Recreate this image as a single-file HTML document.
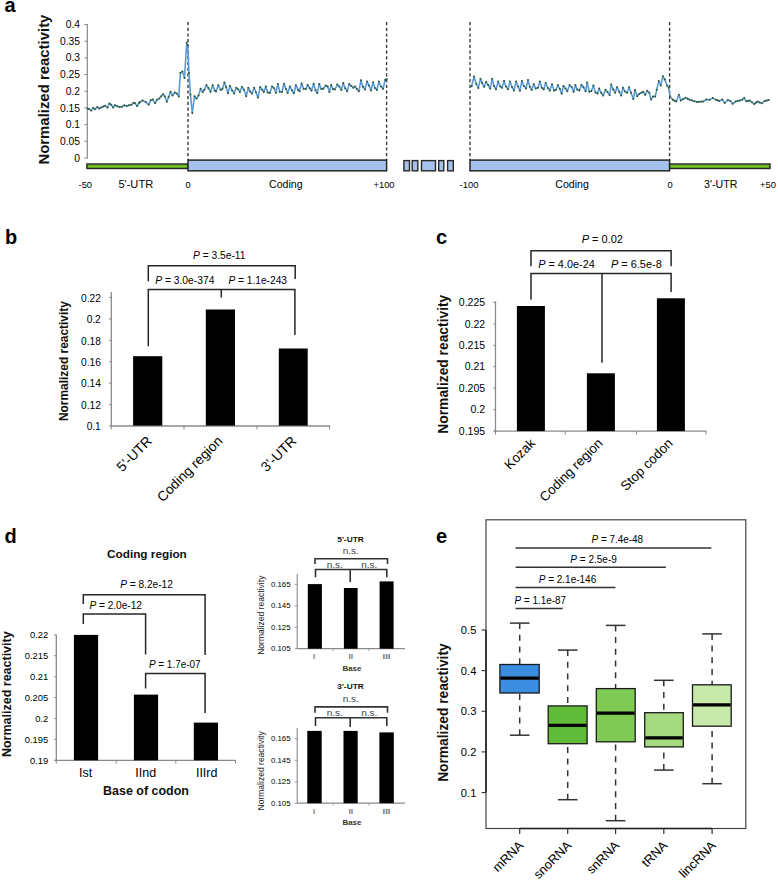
<!DOCTYPE html>
<html><head><meta charset="utf-8"><title>Figure</title>
<style>
html,body{margin:0;padding:0;background:#fff;}
body{width:778px;height:881px;overflow:hidden;}
svg{display:block;font-family:"Liberation Sans", sans-serif;}
</style></head>
<body>
<svg width="778" height="881" viewBox="0 0 778 881">
<rect x="0" y="0" width="778" height="881" fill="#fff"/>
<text x="4.60" y="12.20" font-size="20" text-anchor="start" font-weight="bold" fill="#000">a</text>
<text x="5.00" y="243.50" font-size="20" text-anchor="start" font-weight="bold" fill="#000">b</text>
<text x="436.00" y="244.00" font-size="20" text-anchor="start" font-weight="bold" fill="#000">c</text>
<text x="4.60" y="543.10" font-size="20" text-anchor="start" font-weight="bold" fill="#000">d</text>
<text x="436.00" y="543.20" font-size="20" text-anchor="start" font-weight="bold" fill="#000">e</text>
<text transform="translate(48.90,89.60) rotate(-90)" font-size="15" text-anchor="middle" font-weight="bold" fill="#111" textLength="150.00" lengthAdjust="spacingAndGlyphs">Normalized reactivity</text>
<line x1="87.30" y1="24.00" x2="87.30" y2="158.60" stroke="#8a8a8a" stroke-width="1.2"/>
<line x1="84.30" y1="158.00" x2="87.30" y2="158.00" stroke="#8a8a8a" stroke-width="1.0"/>
<text x="80.00" y="161.60" font-size="10.3" text-anchor="end">0</text>
<line x1="84.30" y1="141.31" x2="87.30" y2="141.31" stroke="#8a8a8a" stroke-width="1.0"/>
<text x="80.00" y="144.91" font-size="10.3" text-anchor="end">0.05</text>
<line x1="84.30" y1="124.62" x2="87.30" y2="124.62" stroke="#8a8a8a" stroke-width="1.0"/>
<text x="80.00" y="128.22" font-size="10.3" text-anchor="end">0.1</text>
<line x1="84.30" y1="107.94" x2="87.30" y2="107.94" stroke="#8a8a8a" stroke-width="1.0"/>
<text x="80.00" y="111.54" font-size="10.3" text-anchor="end">0.15</text>
<line x1="84.30" y1="91.25" x2="87.30" y2="91.25" stroke="#8a8a8a" stroke-width="1.0"/>
<text x="80.00" y="94.85" font-size="10.3" text-anchor="end">0.2</text>
<line x1="84.30" y1="74.56" x2="87.30" y2="74.56" stroke="#8a8a8a" stroke-width="1.0"/>
<text x="80.00" y="78.16" font-size="10.3" text-anchor="end">0.25</text>
<line x1="84.30" y1="57.87" x2="87.30" y2="57.87" stroke="#8a8a8a" stroke-width="1.0"/>
<text x="80.00" y="61.47" font-size="10.3" text-anchor="end">0.3</text>
<line x1="84.30" y1="41.19" x2="87.30" y2="41.19" stroke="#8a8a8a" stroke-width="1.0"/>
<text x="80.00" y="44.79" font-size="10.3" text-anchor="end">0.35</text>
<line x1="84.30" y1="24.50" x2="87.30" y2="24.50" stroke="#8a8a8a" stroke-width="1.0"/>
<text x="80.00" y="28.10" font-size="10.3" text-anchor="end">0.4</text>
<line x1="188.00" y1="22.00" x2="188.00" y2="160.00" stroke="#3a3a3a" stroke-width="1.4" stroke-dasharray="3.2,2.5"/>
<line x1="386.60" y1="22.00" x2="386.60" y2="160.00" stroke="#3a3a3a" stroke-width="1.4" stroke-dasharray="3.2,2.5"/>
<line x1="470.00" y1="22.00" x2="470.00" y2="160.00" stroke="#3a3a3a" stroke-width="1.4" stroke-dasharray="3.2,2.5"/>
<line x1="669.60" y1="22.00" x2="669.60" y2="160.00" stroke="#3a3a3a" stroke-width="1.4" stroke-dasharray="3.2,2.5"/>
<path d="M87.7,108.5 L88.9,108.9 L91.2,110.5 L93.1,107.8 L95.0,109.2 L97.3,107.1 L99.3,108.5 L101.2,107.6 L103.1,106.6 L105.0,105.8 L107.4,107.6 L109.3,103.5 L111.2,104.7 L113.1,107.4 L115.1,105.3 L117.4,106.2 L119.7,107.0 L122.0,106.8 L124.3,105.3 L126.6,106.1 L129.0,105.3 L131.3,104.8 L133.6,102.8 L135.1,103.3 L137.1,106.1 L139.0,103.0 L140.0,102.1 L142.6,100.5 L145.6,102.1 L148.7,104.6 L150.7,100.3 L152.8,99.5 L155.1,103.1 L156.9,99.8 L159.4,98.5 L163.0,94.2 L165.0,96.4 L166.8,101.8 L168.6,97.0 L170.5,91.8 L172.5,95.4 L174.8,92.6 L176.8,93.6 L178.8,96.4 L180.4,72.9 L182.4,71.4 L184.5,78.0 L186.7,42.8 L187.8,45.3 L188.9,72.9 L190.4,94.4 L192.3,113.0 L194.5,96.3 L196.5,98.6 L198.5,95.6 L200.6,88.7 L202.8,92.0 L204.4,89.8 L206.4,85.1 L208.4,88.0 L210.5,91.8 L212.7,85.3 L214.7,90.5 L216.1,91.4 L218.3,85.3 L220.6,90.0 L222.4,89.1 L224.4,82.4 L226.0,86.9 L228.0,93.2 L230.0,85.7 L232.1,90.5 L234.1,93.4 L236.3,87.8 L238.1,89.3 L239.9,92.0 L242.0,86.9 L244.0,89.8 L246.2,96.3 L248.3,87.8 L250.1,91.6 L252.1,93.6 L254.1,87.8 L255.9,92.0 L258.0,97.6 L260.2,87.0 L262.2,89.7 L263.8,92.0 L265.8,86.4 L267.6,92.4 L269.8,92.9 L272.1,86.4 L274.1,88.2 L275.9,92.7 L277.9,84.1 L279.7,91.8 L282.0,92.0 L284.0,83.7 L286.0,89.1 L287.6,92.9 L289.9,86.4 L291.9,90.2 L293.9,93.3 L295.9,85.2 L298.0,89.7 L299.5,91.3 L301.6,83.4 L303.6,88.8 L305.8,89.1 L307.6,85.0 L309.7,88.2 L311.5,90.6 L313.7,83.7 L315.5,90.2 L317.3,93.1 L319.3,84.1 L321.4,89.1 L323.4,88.6 L325.8,85.6 L327.6,86.5 L329.4,91.9 L331.2,85.0 L333.0,89.0 L334.8,89.5 L337.3,84.5 L339.3,86.5 L341.4,89.9 L343.2,82.9 L345.2,88.3 L347.2,91.3 L349.2,84.1 L351.3,85.9 L353.3,87.7 L355.1,86.5 L356.9,89.0 L358.9,91.3 L360.9,80.2 L363.0,86.8 L365.0,89.5 L367.0,81.6 L369.0,85.6 L371.1,90.4 L373.1,82.3 L374.9,87.9 L376.9,89.9 L378.9,81.6 L381.0,86.5 L383.0,88.8 L385.2,80.0 L386.6,78.9" stroke="#5b9ad8" stroke-width="1.6" fill="none" stroke-linejoin="round"/>
<g fill="#2f5a2f"><circle cx="87.7" cy="108.5" r="1.0"/><circle cx="88.9" cy="108.9" r="1.0"/><circle cx="91.2" cy="110.5" r="1.0"/><circle cx="93.1" cy="107.8" r="1.0"/><circle cx="95.0" cy="109.2" r="1.0"/><circle cx="97.3" cy="107.1" r="1.0"/><circle cx="99.3" cy="108.5" r="1.0"/><circle cx="101.2" cy="107.6" r="1.0"/><circle cx="103.1" cy="106.6" r="1.0"/><circle cx="105.0" cy="105.8" r="1.0"/><circle cx="107.4" cy="107.6" r="1.0"/><circle cx="109.3" cy="103.5" r="1.0"/><circle cx="111.2" cy="104.7" r="1.0"/><circle cx="113.1" cy="107.4" r="1.0"/><circle cx="115.1" cy="105.3" r="1.0"/><circle cx="117.4" cy="106.2" r="1.0"/><circle cx="119.7" cy="107.0" r="1.0"/><circle cx="122.0" cy="106.8" r="1.0"/><circle cx="124.3" cy="105.3" r="1.0"/><circle cx="126.6" cy="106.1" r="1.0"/><circle cx="129.0" cy="105.3" r="1.0"/><circle cx="131.3" cy="104.8" r="1.0"/><circle cx="133.6" cy="102.8" r="1.0"/><circle cx="135.1" cy="103.3" r="1.0"/><circle cx="137.1" cy="106.1" r="1.0"/><circle cx="139.0" cy="103.0" r="1.0"/><circle cx="140.0" cy="102.1" r="1.0"/><circle cx="142.6" cy="100.5" r="1.0"/><circle cx="145.6" cy="102.1" r="1.0"/><circle cx="148.7" cy="104.6" r="1.0"/><circle cx="150.7" cy="100.3" r="1.0"/><circle cx="152.8" cy="99.5" r="1.0"/><circle cx="155.1" cy="103.1" r="1.0"/><circle cx="156.9" cy="99.8" r="1.0"/><circle cx="159.4" cy="98.5" r="1.0"/><circle cx="161.2" cy="96.3" r="1.0"/><circle cx="163.0" cy="94.2" r="1.0"/><circle cx="165.0" cy="96.4" r="1.0"/><circle cx="166.8" cy="101.8" r="1.0"/><circle cx="168.6" cy="97.0" r="1.0"/><circle cx="170.5" cy="91.8" r="1.0"/><circle cx="172.5" cy="95.4" r="1.0"/><circle cx="174.8" cy="92.6" r="1.0"/><circle cx="176.8" cy="93.6" r="1.0"/><circle cx="178.8" cy="96.4" r="1.0"/><circle cx="180.4" cy="72.9" r="1.0"/><circle cx="182.4" cy="71.4" r="1.0"/><circle cx="184.5" cy="78.0" r="1.0"/><circle cx="186.7" cy="42.8" r="1.0"/><circle cx="187.8" cy="45.3" r="1.0"/><circle cx="188.9" cy="72.9" r="1.0"/><circle cx="190.4" cy="94.4" r="1.0"/><circle cx="192.3" cy="113.0" r="1.0"/><circle cx="194.5" cy="96.3" r="1.0"/><circle cx="196.5" cy="98.6" r="1.0"/><circle cx="198.5" cy="95.6" r="1.0"/><circle cx="200.6" cy="88.7" r="1.0"/><circle cx="202.8" cy="92.0" r="1.0"/><circle cx="204.4" cy="89.8" r="1.0"/><circle cx="206.4" cy="85.1" r="1.0"/><circle cx="208.4" cy="88.0" r="1.0"/><circle cx="210.5" cy="91.8" r="1.0"/><circle cx="212.7" cy="85.3" r="1.0"/><circle cx="214.7" cy="90.5" r="1.0"/><circle cx="216.1" cy="91.4" r="1.0"/><circle cx="218.3" cy="85.3" r="1.0"/><circle cx="220.6" cy="90.0" r="1.0"/><circle cx="222.4" cy="89.1" r="1.0"/><circle cx="224.4" cy="82.4" r="1.0"/><circle cx="226.0" cy="86.9" r="1.0"/><circle cx="228.0" cy="93.2" r="1.0"/><circle cx="230.0" cy="85.7" r="1.0"/><circle cx="232.1" cy="90.5" r="1.0"/><circle cx="234.1" cy="93.4" r="1.0"/><circle cx="236.3" cy="87.8" r="1.0"/><circle cx="238.1" cy="89.3" r="1.0"/><circle cx="239.9" cy="92.0" r="1.0"/><circle cx="242.0" cy="86.9" r="1.0"/><circle cx="244.0" cy="89.8" r="1.0"/><circle cx="246.2" cy="96.3" r="1.0"/><circle cx="248.3" cy="87.8" r="1.0"/><circle cx="250.1" cy="91.6" r="1.0"/><circle cx="252.1" cy="93.6" r="1.0"/><circle cx="254.1" cy="87.8" r="1.0"/><circle cx="255.9" cy="92.0" r="1.0"/><circle cx="258.0" cy="97.6" r="1.0"/><circle cx="260.2" cy="87.0" r="1.0"/><circle cx="262.2" cy="89.7" r="1.0"/><circle cx="263.8" cy="92.0" r="1.0"/><circle cx="265.8" cy="86.4" r="1.0"/><circle cx="267.6" cy="92.4" r="1.0"/><circle cx="269.8" cy="92.9" r="1.0"/><circle cx="272.1" cy="86.4" r="1.0"/><circle cx="274.1" cy="88.2" r="1.0"/><circle cx="275.9" cy="92.7" r="1.0"/><circle cx="277.9" cy="84.1" r="1.0"/><circle cx="279.7" cy="91.8" r="1.0"/><circle cx="282.0" cy="92.0" r="1.0"/><circle cx="284.0" cy="83.7" r="1.0"/><circle cx="286.0" cy="89.1" r="1.0"/><circle cx="287.6" cy="92.9" r="1.0"/><circle cx="289.9" cy="86.4" r="1.0"/><circle cx="291.9" cy="90.2" r="1.0"/><circle cx="293.9" cy="93.3" r="1.0"/><circle cx="295.9" cy="85.2" r="1.0"/><circle cx="298.0" cy="89.7" r="1.0"/><circle cx="299.5" cy="91.3" r="1.0"/><circle cx="301.6" cy="83.4" r="1.0"/><circle cx="303.6" cy="88.8" r="1.0"/><circle cx="305.8" cy="89.1" r="1.0"/><circle cx="307.6" cy="85.0" r="1.0"/><circle cx="309.7" cy="88.2" r="1.0"/><circle cx="311.5" cy="90.6" r="1.0"/><circle cx="313.7" cy="83.7" r="1.0"/><circle cx="315.5" cy="90.2" r="1.0"/><circle cx="317.3" cy="93.1" r="1.0"/><circle cx="319.3" cy="84.1" r="1.0"/><circle cx="321.4" cy="89.1" r="1.0"/><circle cx="323.4" cy="88.6" r="1.0"/><circle cx="325.8" cy="85.6" r="1.0"/><circle cx="327.6" cy="86.5" r="1.0"/><circle cx="329.4" cy="91.9" r="1.0"/><circle cx="331.2" cy="85.0" r="1.0"/><circle cx="333.0" cy="89.0" r="1.0"/><circle cx="334.8" cy="89.5" r="1.0"/><circle cx="337.3" cy="84.5" r="1.0"/><circle cx="339.3" cy="86.5" r="1.0"/><circle cx="341.4" cy="89.9" r="1.0"/><circle cx="343.2" cy="82.9" r="1.0"/><circle cx="345.2" cy="88.3" r="1.0"/><circle cx="347.2" cy="91.3" r="1.0"/><circle cx="349.2" cy="84.1" r="1.0"/><circle cx="351.3" cy="85.9" r="1.0"/><circle cx="353.3" cy="87.7" r="1.0"/><circle cx="355.1" cy="86.5" r="1.0"/><circle cx="356.9" cy="89.0" r="1.0"/><circle cx="358.9" cy="91.3" r="1.0"/><circle cx="360.9" cy="80.2" r="1.0"/><circle cx="363.0" cy="86.8" r="1.0"/><circle cx="365.0" cy="89.5" r="1.0"/><circle cx="367.0" cy="81.6" r="1.0"/><circle cx="369.0" cy="85.6" r="1.0"/><circle cx="371.1" cy="90.4" r="1.0"/><circle cx="373.1" cy="82.3" r="1.0"/><circle cx="374.9" cy="87.9" r="1.0"/><circle cx="376.9" cy="89.9" r="1.0"/><circle cx="378.9" cy="81.6" r="1.0"/><circle cx="381.0" cy="86.5" r="1.0"/><circle cx="383.0" cy="88.8" r="1.0"/><circle cx="385.2" cy="80.0" r="1.0"/><circle cx="386.6" cy="78.9" r="1.0"/></g>
<path d="M471.7,86.3 L474.0,76.6 L476.2,83.8 L478.3,87.9 L480.5,78.7 L482.1,82.9 L484.1,86.8 L486.1,82.0 L488.2,85.0 L490.2,88.6 L492.2,78.7 L494.0,86.1 L496.0,89.2 L498.1,81.6 L500.1,86.3 L501.9,87.7 L504.1,80.9 L505.9,86.5 L508.0,89.2 L510.0,81.4 L512.0,87.0 L514.0,90.6 L516.1,81.6 L518.1,86.5 L519.9,90.8 L521.9,80.9 L523.9,86.1 L526.0,88.6 L528.0,80.0 L529.8,86.8 L531.6,89.9 L533.8,84.3 L535.8,88.6 L537.9,87.7 L539.9,81.6 L541.7,87.7 L543.7,89.3 L545.7,83.0 L547.8,87.9 L549.8,90.6 L552.0,84.3 L554.1,90.6 L556.1,89.7 L557.9,85.0 L559.9,89.1 L561.7,93.6 L563.5,85.9 L565.5,88.6 L567.3,91.3 L569.6,85.0 L571.6,87.0 L573.6,91.8 L575.4,85.0 L577.2,89.5 L579.3,90.6 L581.5,85.0 L583.5,87.3 L585.6,91.3 L587.1,82.5 L589.4,91.8 L591.4,91.1 L593.4,85.5 L595.5,92.4 L597.5,93.6 L599.1,88.6 L601.2,92.7 L603.2,95.5 L605.5,89.8 L607.5,92.1 L609.6,95.0 L611.2,84.5 L613.3,89.6 L615.1,92.7 L617.1,87.2 L619.2,91.7 L621.2,95.5 L623.0,87.8 L625.0,91.4 L627.1,92.7 L629.1,87.2 L631.0,92.7 L633.3,99.1 L635.1,90.0 L637.2,96.2 L639.2,93.9 L641.3,92.7 L643.1,91.7 L645.2,94.8 L647.2,90.8 L649.3,92.7 L651.0,99.6 L653.1,96.5 L655.2,96.5 L656.7,89.8 L658.8,81.1 L660.8,85.5 L662.9,76.2 L664.9,79.5 L667.0,85.5 L668.8,87.8 L670.0,96.3 L672.8,99.8 L676.3,101.5 L678.9,94.8 L680.8,100.5 L685.5,97.7 L689.7,99.8 L696.8,101.9 L703.2,101.5 L706.3,99.5 L709.5,99.8 L712.8,98.1 L715.9,99.8 L719.4,100.9 L722.3,99.5 L724.7,102.9 L727.9,100.1 L730.3,100.9 L732.6,103.8 L735.7,101.5 L739.7,100.5 L742.1,99.8 L744.2,98.1 L746.3,101.2 L749.8,100.5 L754.1,104.0 L757.6,101.5 L761.8,103.3 L764.7,100.9 L768.9,100.1" stroke="#5b9ad8" stroke-width="1.6" fill="none" stroke-linejoin="round"/>
<g fill="#2f5a2f"><circle cx="471.7" cy="86.3" r="1.0"/><circle cx="474.0" cy="76.6" r="1.0"/><circle cx="476.2" cy="83.8" r="1.0"/><circle cx="478.3" cy="87.9" r="1.0"/><circle cx="480.5" cy="78.7" r="1.0"/><circle cx="482.1" cy="82.9" r="1.0"/><circle cx="484.1" cy="86.8" r="1.0"/><circle cx="486.1" cy="82.0" r="1.0"/><circle cx="488.2" cy="85.0" r="1.0"/><circle cx="490.2" cy="88.6" r="1.0"/><circle cx="492.2" cy="78.7" r="1.0"/><circle cx="494.0" cy="86.1" r="1.0"/><circle cx="496.0" cy="89.2" r="1.0"/><circle cx="498.1" cy="81.6" r="1.0"/><circle cx="500.1" cy="86.3" r="1.0"/><circle cx="501.9" cy="87.7" r="1.0"/><circle cx="504.1" cy="80.9" r="1.0"/><circle cx="505.9" cy="86.5" r="1.0"/><circle cx="508.0" cy="89.2" r="1.0"/><circle cx="510.0" cy="81.4" r="1.0"/><circle cx="512.0" cy="87.0" r="1.0"/><circle cx="514.0" cy="90.6" r="1.0"/><circle cx="516.1" cy="81.6" r="1.0"/><circle cx="518.1" cy="86.5" r="1.0"/><circle cx="519.9" cy="90.8" r="1.0"/><circle cx="521.9" cy="80.9" r="1.0"/><circle cx="523.9" cy="86.1" r="1.0"/><circle cx="526.0" cy="88.6" r="1.0"/><circle cx="528.0" cy="80.0" r="1.0"/><circle cx="529.8" cy="86.8" r="1.0"/><circle cx="531.6" cy="89.9" r="1.0"/><circle cx="533.8" cy="84.3" r="1.0"/><circle cx="535.8" cy="88.6" r="1.0"/><circle cx="537.9" cy="87.7" r="1.0"/><circle cx="539.9" cy="81.6" r="1.0"/><circle cx="541.7" cy="87.7" r="1.0"/><circle cx="543.7" cy="89.3" r="1.0"/><circle cx="545.7" cy="83.0" r="1.0"/><circle cx="547.8" cy="87.9" r="1.0"/><circle cx="549.8" cy="90.6" r="1.0"/><circle cx="552.0" cy="84.3" r="1.0"/><circle cx="554.1" cy="90.6" r="1.0"/><circle cx="556.1" cy="89.7" r="1.0"/><circle cx="557.9" cy="85.0" r="1.0"/><circle cx="559.9" cy="89.1" r="1.0"/><circle cx="561.7" cy="93.6" r="1.0"/><circle cx="563.5" cy="85.9" r="1.0"/><circle cx="565.5" cy="88.6" r="1.0"/><circle cx="567.3" cy="91.3" r="1.0"/><circle cx="569.6" cy="85.0" r="1.0"/><circle cx="571.6" cy="87.0" r="1.0"/><circle cx="573.6" cy="91.8" r="1.0"/><circle cx="575.4" cy="85.0" r="1.0"/><circle cx="577.2" cy="89.5" r="1.0"/><circle cx="579.3" cy="90.6" r="1.0"/><circle cx="581.5" cy="85.0" r="1.0"/><circle cx="583.5" cy="87.3" r="1.0"/><circle cx="585.6" cy="91.3" r="1.0"/><circle cx="587.1" cy="82.5" r="1.0"/><circle cx="589.4" cy="91.8" r="1.0"/><circle cx="591.4" cy="91.1" r="1.0"/><circle cx="593.4" cy="85.5" r="1.0"/><circle cx="595.5" cy="92.4" r="1.0"/><circle cx="597.5" cy="93.6" r="1.0"/><circle cx="599.1" cy="88.6" r="1.0"/><circle cx="601.2" cy="92.7" r="1.0"/><circle cx="603.2" cy="95.5" r="1.0"/><circle cx="605.5" cy="89.8" r="1.0"/><circle cx="607.5" cy="92.1" r="1.0"/><circle cx="609.6" cy="95.0" r="1.0"/><circle cx="611.2" cy="84.5" r="1.0"/><circle cx="613.3" cy="89.6" r="1.0"/><circle cx="615.1" cy="92.7" r="1.0"/><circle cx="617.1" cy="87.2" r="1.0"/><circle cx="619.2" cy="91.7" r="1.0"/><circle cx="621.2" cy="95.5" r="1.0"/><circle cx="623.0" cy="87.8" r="1.0"/><circle cx="625.0" cy="91.4" r="1.0"/><circle cx="627.1" cy="92.7" r="1.0"/><circle cx="629.1" cy="87.2" r="1.0"/><circle cx="631.0" cy="92.7" r="1.0"/><circle cx="633.3" cy="99.1" r="1.0"/><circle cx="635.1" cy="90.0" r="1.0"/><circle cx="637.2" cy="96.2" r="1.0"/><circle cx="639.2" cy="93.9" r="1.0"/><circle cx="641.3" cy="92.7" r="1.0"/><circle cx="643.1" cy="91.7" r="1.0"/><circle cx="645.2" cy="94.8" r="1.0"/><circle cx="647.2" cy="90.8" r="1.0"/><circle cx="649.3" cy="92.7" r="1.0"/><circle cx="651.0" cy="99.6" r="1.0"/><circle cx="653.1" cy="96.5" r="1.0"/><circle cx="655.2" cy="96.5" r="1.0"/><circle cx="656.7" cy="89.8" r="1.0"/><circle cx="658.8" cy="81.1" r="1.0"/><circle cx="660.8" cy="85.5" r="1.0"/><circle cx="662.9" cy="76.2" r="1.0"/><circle cx="664.9" cy="79.5" r="1.0"/><circle cx="667.0" cy="85.5" r="1.0"/><circle cx="668.8" cy="87.8" r="1.0"/><circle cx="670.0" cy="96.3" r="1.0"/><circle cx="672.8" cy="99.8" r="1.0"/><circle cx="674.5" cy="100.7" r="1.0"/><circle cx="676.3" cy="101.5" r="1.0"/><circle cx="678.9" cy="94.8" r="1.0"/><circle cx="680.8" cy="100.5" r="1.0"/><circle cx="683.1" cy="99.1" r="1.0"/><circle cx="685.5" cy="97.7" r="1.0"/><circle cx="687.6" cy="98.8" r="1.0"/><circle cx="689.7" cy="99.8" r="1.0"/><circle cx="692.1" cy="100.5" r="1.0"/><circle cx="694.4" cy="101.2" r="1.0"/><circle cx="696.8" cy="101.9" r="1.0"/><circle cx="698.9" cy="101.8" r="1.0"/><circle cx="701.1" cy="101.6" r="1.0"/><circle cx="703.2" cy="101.5" r="1.0"/><circle cx="706.3" cy="99.5" r="1.0"/><circle cx="709.5" cy="99.8" r="1.0"/><circle cx="712.8" cy="98.1" r="1.0"/><circle cx="715.9" cy="99.8" r="1.0"/><circle cx="717.6" cy="100.3" r="1.0"/><circle cx="719.4" cy="100.9" r="1.0"/><circle cx="722.3" cy="99.5" r="1.0"/><circle cx="724.7" cy="102.9" r="1.0"/><circle cx="727.9" cy="100.1" r="1.0"/><circle cx="730.3" cy="100.9" r="1.0"/><circle cx="732.6" cy="103.8" r="1.0"/><circle cx="735.7" cy="101.5" r="1.0"/><circle cx="737.7" cy="101.0" r="1.0"/><circle cx="739.7" cy="100.5" r="1.0"/><circle cx="742.1" cy="99.8" r="1.0"/><circle cx="744.2" cy="98.1" r="1.0"/><circle cx="746.3" cy="101.2" r="1.0"/><circle cx="748.0" cy="100.8" r="1.0"/><circle cx="749.8" cy="100.5" r="1.0"/><circle cx="752.0" cy="102.2" r="1.0"/><circle cx="754.1" cy="104.0" r="1.0"/><circle cx="755.9" cy="102.8" r="1.0"/><circle cx="757.6" cy="101.5" r="1.0"/><circle cx="759.7" cy="102.4" r="1.0"/><circle cx="761.8" cy="103.3" r="1.0"/><circle cx="764.7" cy="100.9" r="1.0"/><circle cx="766.8" cy="100.5" r="1.0"/><circle cx="768.9" cy="100.1" r="1.0"/></g>
<rect x="86.90" y="164.00" width="101.10" height="4.50" fill="#6dbd24" stroke="#262626" stroke-width="1.4"/>
<rect x="188.00" y="160.10" width="198.60" height="10.70" fill="#a6c1ec" stroke="#262626" stroke-width="1.5"/>
<rect x="403.90" y="160.60" width="5.60" height="10.20" fill="#a6c1ec" stroke="#262626" stroke-width="1.4"/>
<rect x="412.20" y="160.60" width="5.60" height="10.20" fill="#a6c1ec" stroke="#262626" stroke-width="1.4"/>
<rect x="421.50" y="160.60" width="14.00" height="10.20" fill="#a6c1ec" stroke="#262626" stroke-width="1.4"/>
<rect x="438.70" y="160.60" width="5.10" height="10.20" fill="#a6c1ec" stroke="#262626" stroke-width="1.4"/>
<rect x="447.60" y="160.60" width="5.70" height="10.20" fill="#a6c1ec" stroke="#262626" stroke-width="1.4"/>
<rect x="470.00" y="160.10" width="199.60" height="10.70" fill="#a6c1ec" stroke="#262626" stroke-width="1.5"/>
<rect x="669.60" y="164.00" width="100.40" height="4.50" fill="#6dbd24" stroke="#262626" stroke-width="1.4"/>
<text x="85.30" y="188.30" font-size="9.4" text-anchor="middle">-50</text>
<text x="118.40" y="188.30" font-size="11.1" text-anchor="start">5'-UTR</text>
<text x="188.20" y="188.30" font-size="9.4" text-anchor="middle">0</text>
<text x="269.00" y="188.30" font-size="10.6" text-anchor="start">Coding</text>
<text x="384.00" y="188.30" font-size="9.4" text-anchor="middle">+100</text>
<text x="469.00" y="188.30" font-size="9.4" text-anchor="middle">-100</text>
<text x="555.30" y="188.30" font-size="10.6" text-anchor="start">Coding</text>
<text x="670.20" y="188.30" font-size="9.4" text-anchor="middle">0</text>
<text x="704.10" y="188.30" font-size="10.6" text-anchor="start">3'-UTR</text>
<text x="768.00" y="188.30" font-size="9.4" text-anchor="middle">+50</text>
<text transform="translate(67.90,361.10) rotate(-90)" font-size="12.2" text-anchor="middle" font-weight="bold" fill="#111" textLength="120.00" lengthAdjust="spacingAndGlyphs">Normalized reactivity</text>
<line x1="111.30" y1="292.10" x2="111.30" y2="426.60" stroke="#8a8a8a" stroke-width="1.3"/>
<line x1="110.70" y1="426.00" x2="330.00" y2="426.00" stroke="#8a8a8a" stroke-width="1.3"/>
<line x1="109.00" y1="426.00" x2="111.30" y2="426.00" stroke="#8a8a8a" stroke-width="1.0"/>
<text x="100.80" y="430.20" font-size="10.2" text-anchor="end">0.1</text>
<line x1="109.00" y1="404.58" x2="111.30" y2="404.58" stroke="#8a8a8a" stroke-width="1.0"/>
<text x="100.80" y="408.78" font-size="10.2" text-anchor="end">0.12</text>
<line x1="109.00" y1="383.16" x2="111.30" y2="383.16" stroke="#8a8a8a" stroke-width="1.0"/>
<text x="100.80" y="387.36" font-size="10.2" text-anchor="end">0.14</text>
<line x1="109.00" y1="361.74" x2="111.30" y2="361.74" stroke="#8a8a8a" stroke-width="1.0"/>
<text x="100.80" y="365.94" font-size="10.2" text-anchor="end">0.16</text>
<line x1="109.00" y1="340.32" x2="111.30" y2="340.32" stroke="#8a8a8a" stroke-width="1.0"/>
<text x="100.80" y="344.52" font-size="10.2" text-anchor="end">0.18</text>
<line x1="109.00" y1="318.90" x2="111.30" y2="318.90" stroke="#8a8a8a" stroke-width="1.0"/>
<text x="100.80" y="323.10" font-size="10.2" text-anchor="end">0.2</text>
<line x1="109.00" y1="297.48" x2="111.30" y2="297.48" stroke="#8a8a8a" stroke-width="1.0"/>
<text x="100.80" y="301.68" font-size="10.2" text-anchor="end">0.22</text>
<line x1="111.30" y1="426.00" x2="111.30" y2="429.50" stroke="#8a8a8a" stroke-width="1.0"/>
<line x1="184.00" y1="426.00" x2="184.00" y2="429.50" stroke="#8a8a8a" stroke-width="1.0"/>
<line x1="257.00" y1="426.00" x2="257.00" y2="429.50" stroke="#8a8a8a" stroke-width="1.0"/>
<line x1="329.60" y1="426.00" x2="329.60" y2="429.50" stroke="#8a8a8a" stroke-width="1.0"/>
<rect x="133.10" y="356.20" width="29.20" height="69.40" fill="#000"/>
<rect x="205.80" y="309.50" width="29.20" height="116.10" fill="#000"/>
<rect x="278.80" y="348.50" width="28.90" height="77.10" fill="#000"/>
<path d="M148.3,281.2 V265.8 H295.2 V279.0" stroke="#262626" stroke-width="1.5" fill="none"/>
<path d="M148.3,346.3 V289.6 H294.9 V335.0 M221.3,289.6 V297.6" stroke="#262626" stroke-width="1.5" fill="none"/>
<text x="193.00" y="259.30" font-size="10.3" text-anchor="start" textLength="52.50" lengthAdjust="spacingAndGlyphs"><tspan font-style="italic">P</tspan> = 3.5e-11</text>
<text x="155.20" y="283.80" font-size="10.3" text-anchor="start" textLength="59.20" lengthAdjust="spacingAndGlyphs"><tspan font-style="italic">P</tspan> = 3.0e-374</text>
<text x="228.40" y="283.80" font-size="10.3" text-anchor="start" textLength="58.60" lengthAdjust="spacingAndGlyphs"><tspan font-style="italic">P</tspan> = 1.1e-243</text>
<text transform="translate(152.80,441.90) rotate(-45)" font-size="13.8" text-anchor="end">5'-UTR</text>
<text transform="translate(223.40,441.90) rotate(-45)" font-size="13.8" text-anchor="end">Coding region</text>
<text transform="translate(297.20,441.90) rotate(-45)" font-size="13.8" text-anchor="end">3'-UTR</text>
<text transform="translate(447.60,364.20) rotate(-90)" font-size="14.2" text-anchor="middle" font-weight="bold" fill="#111" textLength="139.00" lengthAdjust="spacingAndGlyphs">Normalized reactivity</text>
<line x1="495.50" y1="301.30" x2="495.50" y2="432.20" stroke="#8a8a8a" stroke-width="1.3"/>
<line x1="494.00" y1="431.10" x2="706.30" y2="431.10" stroke="#8a8a8a" stroke-width="1.3"/>
<line x1="493.30" y1="431.10" x2="495.50" y2="431.10" stroke="#8a8a8a" stroke-width="1.0"/>
<text x="485.10" y="434.80" font-size="10.5" text-anchor="end">0.195</text>
<line x1="493.30" y1="409.65" x2="495.50" y2="409.65" stroke="#8a8a8a" stroke-width="1.0"/>
<text x="485.10" y="413.35" font-size="10.5" text-anchor="end">0.2</text>
<line x1="493.30" y1="388.20" x2="495.50" y2="388.20" stroke="#8a8a8a" stroke-width="1.0"/>
<text x="485.10" y="391.90" font-size="10.5" text-anchor="end">0.205</text>
<line x1="493.30" y1="366.75" x2="495.50" y2="366.75" stroke="#8a8a8a" stroke-width="1.0"/>
<text x="485.10" y="370.45" font-size="10.5" text-anchor="end">0.21</text>
<line x1="493.30" y1="345.30" x2="495.50" y2="345.30" stroke="#8a8a8a" stroke-width="1.0"/>
<text x="485.10" y="349.00" font-size="10.5" text-anchor="end">0.215</text>
<line x1="493.30" y1="323.85" x2="495.50" y2="323.85" stroke="#8a8a8a" stroke-width="1.0"/>
<text x="485.10" y="327.55" font-size="10.5" text-anchor="end">0.22</text>
<line x1="493.30" y1="302.40" x2="495.50" y2="302.40" stroke="#8a8a8a" stroke-width="1.0"/>
<text x="485.10" y="306.10" font-size="10.5" text-anchor="end">0.225</text>
<line x1="495.50" y1="431.10" x2="495.50" y2="434.60" stroke="#8a8a8a" stroke-width="1.0"/>
<line x1="565.20" y1="431.10" x2="565.20" y2="434.60" stroke="#8a8a8a" stroke-width="1.0"/>
<line x1="636.50" y1="431.10" x2="636.50" y2="434.60" stroke="#8a8a8a" stroke-width="1.0"/>
<line x1="706.00" y1="431.10" x2="706.00" y2="434.60" stroke="#8a8a8a" stroke-width="1.0"/>
<rect x="516.90" y="306.00" width="28.00" height="125.10" fill="#000"/>
<rect x="586.90" y="373.30" width="28.00" height="57.80" fill="#000"/>
<rect x="656.90" y="298.30" width="28.00" height="132.80" fill="#000"/>
<path d="M531.0,266.3 V250.8 H671.1 V266.2" stroke="#262626" stroke-width="1.5" fill="none"/>
<path d="M531.0,299.8 V273.5 H671.1 V291.9 M602.0,273.5 V362.8" stroke="#262626" stroke-width="1.5" fill="none"/>
<text x="581.70" y="243.20" font-size="10.5" text-anchor="start" textLength="41.30" lengthAdjust="spacingAndGlyphs"><tspan font-style="italic">P</tspan> = 0.02</text>
<text x="538.20" y="267.70" font-size="10.5" text-anchor="start" textLength="56.60" lengthAdjust="spacingAndGlyphs"><tspan font-style="italic">P</tspan> = 4.0e-24</text>
<text x="610.90" y="267.70" font-size="10.5" text-anchor="start" textLength="50.90" lengthAdjust="spacingAndGlyphs"><tspan font-style="italic">P</tspan> = 6.5e-8</text>
<text transform="translate(536.00,444.00) rotate(-45)" font-size="13.3" text-anchor="end">Kozak</text>
<text transform="translate(603.50,444.00) rotate(-45)" font-size="13.3" text-anchor="end">Coding region</text>
<text transform="translate(673.60,444.00) rotate(-45)" font-size="13.3" text-anchor="end">Stop codon</text>
<text transform="translate(10.80,694.20) rotate(-90)" font-size="12.7" text-anchor="middle" font-weight="bold" fill="#111" textLength="125.70" lengthAdjust="spacingAndGlyphs">Normalized reactivity</text>
<line x1="56.30" y1="634.40" x2="56.30" y2="761.30" stroke="#8a8a8a" stroke-width="1.3"/>
<line x1="55.00" y1="760.30" x2="236.00" y2="760.30" stroke="#8a8a8a" stroke-width="1.3"/>
<line x1="54.20" y1="760.30" x2="56.30" y2="760.30" stroke="#8a8a8a" stroke-width="1.0"/>
<text x="48.20" y="763.60" font-size="9.4" text-anchor="end">0.19</text>
<line x1="54.20" y1="739.38" x2="56.30" y2="739.38" stroke="#8a8a8a" stroke-width="1.0"/>
<text x="48.20" y="742.68" font-size="9.4" text-anchor="end">0.195</text>
<line x1="54.20" y1="718.46" x2="56.30" y2="718.46" stroke="#8a8a8a" stroke-width="1.0"/>
<text x="48.20" y="721.76" font-size="9.4" text-anchor="end">0.2</text>
<line x1="54.20" y1="697.54" x2="56.30" y2="697.54" stroke="#8a8a8a" stroke-width="1.0"/>
<text x="48.20" y="700.84" font-size="9.4" text-anchor="end">0.205</text>
<line x1="54.20" y1="676.62" x2="56.30" y2="676.62" stroke="#8a8a8a" stroke-width="1.0"/>
<text x="48.20" y="679.92" font-size="9.4" text-anchor="end">0.21</text>
<line x1="54.20" y1="655.70" x2="56.30" y2="655.70" stroke="#8a8a8a" stroke-width="1.0"/>
<text x="48.20" y="659.00" font-size="9.4" text-anchor="end">0.215</text>
<line x1="54.20" y1="634.78" x2="56.30" y2="634.78" stroke="#8a8a8a" stroke-width="1.0"/>
<text x="48.20" y="638.08" font-size="9.4" text-anchor="end">0.22</text>
<line x1="56.30" y1="760.30" x2="56.30" y2="763.60" stroke="#8a8a8a" stroke-width="1.0"/>
<line x1="116.20" y1="760.30" x2="116.20" y2="763.60" stroke="#8a8a8a" stroke-width="1.0"/>
<line x1="175.80" y1="760.30" x2="175.80" y2="763.60" stroke="#8a8a8a" stroke-width="1.0"/>
<line x1="235.50" y1="760.30" x2="235.50" y2="763.60" stroke="#8a8a8a" stroke-width="1.0"/>
<rect x="73.90" y="634.90" width="24.20" height="125.40" fill="#000"/>
<rect x="133.90" y="694.60" width="24.20" height="65.70" fill="#000"/>
<rect x="193.80" y="722.60" width="24.20" height="37.70" fill="#000"/>
<text x="107.00" y="558.40" font-size="11.7" text-anchor="start" font-weight="bold" fill="#111" textLength="79.80" lengthAdjust="spacingAndGlyphs">Coding region</text>
<path d="M83.3,604.0 V594.8 H205.1 V655.0" stroke="#262626" stroke-width="1.5" fill="none"/>
<path d="M83.3,624.1 V614.0 H145.6 V654.5" stroke="#262626" stroke-width="1.5" fill="none"/>
<path d="M145.6,688.5 V673.4 H205.1 V713.0" stroke="#262626" stroke-width="1.5" fill="none"/>
<text x="120.20" y="588.00" font-size="10.2" text-anchor="start" textLength="52.60" lengthAdjust="spacingAndGlyphs"><tspan font-style="italic">P</tspan> = 8.2e-12</text>
<text x="89.40" y="608.70" font-size="10.2" text-anchor="start" textLength="52.60" lengthAdjust="spacingAndGlyphs"><tspan font-style="italic">P</tspan> = 2.0e-12</text>
<text x="148.90" y="668.10" font-size="10.2" text-anchor="start" textLength="51.70" lengthAdjust="spacingAndGlyphs"><tspan font-style="italic">P</tspan> = 1.7e-07</text>
<text x="85.60" y="776.70" font-size="12.5" text-anchor="middle">Ist</text>
<text x="145.80" y="776.70" font-size="12.5" text-anchor="middle">IInd</text>
<text x="206.70" y="776.70" font-size="12.5" text-anchor="middle">IIIrd</text>
<text x="103.00" y="794.90" font-size="12.4" text-anchor="start" font-weight="bold" fill="#111" textLength="86.00" lengthAdjust="spacingAndGlyphs">Base of codon</text>
<text transform="translate(264.10,615.20) rotate(-90)" font-size="8.2" text-anchor="middle" fill="#222" textLength="79.20" lengthAdjust="spacingAndGlyphs">Normalized reactivity</text>
<line x1="297.20" y1="574.00" x2="297.20" y2="648.70" stroke="#8a8a8a" stroke-width="1.1"/>
<line x1="297.20" y1="648.70" x2="405.00" y2="648.70" stroke="#8a8a8a" stroke-width="1.3"/>
<line x1="294.80" y1="648.70" x2="297.20" y2="648.70" stroke="#8a8a8a" stroke-width="0.9"/>
<text x="290.60" y="651.30" font-size="7.6" text-anchor="end" textLength="19.70" lengthAdjust="spacingAndGlyphs">0.105</text>
<line x1="294.80" y1="627.25" x2="297.20" y2="627.25" stroke="#8a8a8a" stroke-width="0.9"/>
<text x="290.60" y="629.85" font-size="7.6" text-anchor="end" textLength="19.70" lengthAdjust="spacingAndGlyphs">0.125</text>
<line x1="294.80" y1="605.80" x2="297.20" y2="605.80" stroke="#8a8a8a" stroke-width="0.9"/>
<text x="290.60" y="608.40" font-size="7.6" text-anchor="end" textLength="19.70" lengthAdjust="spacingAndGlyphs">0.145</text>
<line x1="294.80" y1="584.35" x2="297.20" y2="584.35" stroke="#8a8a8a" stroke-width="0.9"/>
<text x="290.60" y="586.95" font-size="7.6" text-anchor="end" textLength="19.70" lengthAdjust="spacingAndGlyphs">0.165</text>
<line x1="333.00" y1="648.70" x2="333.00" y2="650.90" stroke="#8a8a8a" stroke-width="0.9"/>
<line x1="369.00" y1="648.70" x2="369.00" y2="650.90" stroke="#8a8a8a" stroke-width="0.9"/>
<rect x="307.80" y="584.10" width="14.10" height="64.60" fill="#000"/>
<rect x="343.90" y="588.00" width="13.70" height="60.70" fill="#000"/>
<rect x="379.60" y="581.40" width="14.00" height="67.30" fill="#000"/>
<text x="350.50" y="541.60" font-size="7.8" text-anchor="middle" font-weight="bold" fill="#111" textLength="26.50" lengthAdjust="spacingAndGlyphs">5'-UTR</text>
<text x="350.80" y="554.30" font-size="9.4" text-anchor="middle" fill="#444" textLength="16.20" lengthAdjust="spacingAndGlyphs">n.s.</text>
<path d="M315.0,564.1 V558.7 H387.5 V564.1" stroke="#333" stroke-width="1.6" fill="none"/>
<text x="334.80" y="567.80" font-size="9.4" text-anchor="middle" fill="#444" textLength="16.20" lengthAdjust="spacingAndGlyphs">n.s.</text>
<text x="369.30" y="567.80" font-size="9.4" text-anchor="middle" fill="#444" textLength="16.20" lengthAdjust="spacingAndGlyphs">n.s.</text>
<path d="M315.5,577.2 V569.5 H386.8 V577.2 M350.2,569.5 V582.0" stroke="#333" stroke-width="1.6" fill="none"/>
<text x="314.00" y="659.10" font-size="7.6" text-anchor="middle" font-weight="bold" fill="#777">I</text>
<text x="350.80" y="659.10" font-size="7.6" text-anchor="middle" font-weight="bold" fill="#777" textLength="4.60" lengthAdjust="spacingAndGlyphs">II</text>
<text x="386.50" y="659.10" font-size="7.6" text-anchor="middle" font-weight="bold" fill="#777" textLength="8.00" lengthAdjust="spacingAndGlyphs">III</text>
<text x="351.90" y="670.50" font-size="8.0" text-anchor="middle" font-weight="bold" fill="#333" textLength="18.90" lengthAdjust="spacingAndGlyphs">Base</text>
<text transform="translate(264.10,770.90) rotate(-90)" font-size="8.2" text-anchor="middle" fill="#222" textLength="79.20" lengthAdjust="spacingAndGlyphs">Normalized reactivity</text>
<line x1="297.20" y1="728.10" x2="297.20" y2="803.20" stroke="#8a8a8a" stroke-width="1.1"/>
<line x1="297.20" y1="803.20" x2="405.00" y2="803.20" stroke="#8a8a8a" stroke-width="1.3"/>
<line x1="294.80" y1="803.20" x2="297.20" y2="803.20" stroke="#8a8a8a" stroke-width="0.9"/>
<text x="290.60" y="805.80" font-size="7.6" text-anchor="end" textLength="19.70" lengthAdjust="spacingAndGlyphs">0.105</text>
<line x1="294.80" y1="781.75" x2="297.20" y2="781.75" stroke="#8a8a8a" stroke-width="0.9"/>
<text x="290.60" y="784.35" font-size="7.6" text-anchor="end" textLength="19.70" lengthAdjust="spacingAndGlyphs">0.125</text>
<line x1="294.80" y1="760.30" x2="297.20" y2="760.30" stroke="#8a8a8a" stroke-width="0.9"/>
<text x="290.60" y="762.90" font-size="7.6" text-anchor="end" textLength="19.70" lengthAdjust="spacingAndGlyphs">0.145</text>
<line x1="294.80" y1="738.85" x2="297.20" y2="738.85" stroke="#8a8a8a" stroke-width="0.9"/>
<text x="290.60" y="741.45" font-size="7.6" text-anchor="end" textLength="19.70" lengthAdjust="spacingAndGlyphs">0.165</text>
<line x1="333.00" y1="803.20" x2="333.00" y2="805.40" stroke="#8a8a8a" stroke-width="0.9"/>
<line x1="369.00" y1="803.20" x2="369.00" y2="805.40" stroke="#8a8a8a" stroke-width="0.9"/>
<rect x="307.30" y="730.90" width="14.40" height="72.30" fill="#000"/>
<rect x="343.50" y="730.90" width="14.20" height="72.30" fill="#000"/>
<rect x="379.40" y="732.40" width="14.40" height="70.80" fill="#000"/>
<text x="350.50" y="689.30" font-size="7.8" text-anchor="middle" font-weight="bold" fill="#111" textLength="26.50" lengthAdjust="spacingAndGlyphs">3'-UTR</text>
<text x="350.80" y="702.00" font-size="9.4" text-anchor="middle" fill="#444" textLength="16.20" lengthAdjust="spacingAndGlyphs">n.s.</text>
<path d="M315.0,712.8 V706.9 H387.5 V712.8" stroke="#333" stroke-width="1.6" fill="none"/>
<text x="334.80" y="716.00" font-size="9.4" text-anchor="middle" fill="#444" textLength="16.20" lengthAdjust="spacingAndGlyphs">n.s.</text>
<text x="369.30" y="716.00" font-size="9.4" text-anchor="middle" fill="#444" textLength="16.20" lengthAdjust="spacingAndGlyphs">n.s.</text>
<path d="M315.5,725.9 V717.8 H386.8 V725.9 M350.2,717.8 V727.0" stroke="#333" stroke-width="1.6" fill="none"/>
<text x="314.00" y="814.10" font-size="7.6" text-anchor="middle" font-weight="bold" fill="#777">I</text>
<text x="350.80" y="814.10" font-size="7.6" text-anchor="middle" font-weight="bold" fill="#777" textLength="4.60" lengthAdjust="spacingAndGlyphs">II</text>
<text x="386.50" y="814.10" font-size="7.6" text-anchor="middle" font-weight="bold" fill="#777" textLength="8.00" lengthAdjust="spacingAndGlyphs">III</text>
<text x="351.90" y="825.00" font-size="8.0" text-anchor="middle" font-weight="bold" fill="#333" textLength="18.90" lengthAdjust="spacingAndGlyphs">Base</text>
<rect x="486.00" y="519.80" width="259.80" height="308.70" fill="none" stroke="#444" stroke-width="1.2"/>
<line x1="486.00" y1="629.95" x2="486.00" y2="792.55" stroke="#222" stroke-width="1.6"/>
<line x1="519.70" y1="828.50" x2="712.10" y2="828.50" stroke="#222" stroke-width="1.6"/>
<text transform="translate(448.00,712.60) rotate(-90)" font-size="14.0" text-anchor="middle" font-weight="bold" fill="#111" textLength="138.50" lengthAdjust="spacingAndGlyphs">Normalized reactivity</text>
<line x1="481.60" y1="792.55" x2="485.90" y2="792.55" stroke="#333" stroke-width="1.1"/>
<text x="476.40" y="796.55" font-size="11.2" text-anchor="end">0.1</text>
<line x1="481.60" y1="751.90" x2="485.90" y2="751.90" stroke="#333" stroke-width="1.1"/>
<text x="476.40" y="755.90" font-size="11.2" text-anchor="end">0.2</text>
<line x1="481.60" y1="711.25" x2="485.90" y2="711.25" stroke="#333" stroke-width="1.1"/>
<text x="476.40" y="715.25" font-size="11.2" text-anchor="end">0.3</text>
<line x1="481.60" y1="670.60" x2="485.90" y2="670.60" stroke="#333" stroke-width="1.1"/>
<text x="476.40" y="674.60" font-size="11.2" text-anchor="end">0.4</text>
<line x1="481.60" y1="629.95" x2="485.90" y2="629.95" stroke="#333" stroke-width="1.1"/>
<text x="476.40" y="633.95" font-size="11.2" text-anchor="end">0.5</text>
<line x1="515.60" y1="548.10" x2="711.40" y2="548.10" stroke="#333" stroke-width="1.5"/>
<line x1="515.60" y1="567.20" x2="665.90" y2="567.20" stroke="#333" stroke-width="1.5"/>
<line x1="515.60" y1="587.40" x2="615.50" y2="587.40" stroke="#333" stroke-width="1.5"/>
<line x1="515.60" y1="608.50" x2="562.70" y2="608.50" stroke="#333" stroke-width="1.5"/>
<text x="591.60" y="543.30" font-size="11.0" text-anchor="start" textLength="51.50" lengthAdjust="spacingAndGlyphs"><tspan font-style="italic">P</tspan> = 7.4e-48</text>
<text x="570.30" y="563.10" font-size="11.0" text-anchor="start" textLength="46.50" lengthAdjust="spacingAndGlyphs"><tspan font-style="italic">P</tspan> = 2.5e-9</text>
<text x="538.70" y="582.90" font-size="11.0" text-anchor="start" textLength="57.50" lengthAdjust="spacingAndGlyphs"><tspan font-style="italic">P</tspan> = 2.1e-146</text>
<text x="514.50" y="604.20" font-size="11.0" text-anchor="start" textLength="51.60" lengthAdjust="spacingAndGlyphs"><tspan font-style="italic">P</tspan> = 1.1e-87</text>
<line x1="519.70" y1="623.10" x2="519.70" y2="664.50" stroke="#333" stroke-width="1.5" stroke-dasharray="6.0,5.7"/>
<line x1="519.70" y1="735.20" x2="519.70" y2="693.00" stroke="#333" stroke-width="1.5" stroke-dasharray="6.0,5.7"/>
<line x1="509.90" y1="623.10" x2="529.50" y2="623.10" stroke="#333" stroke-width="1.5"/>
<line x1="509.90" y1="735.20" x2="529.50" y2="735.20" stroke="#333" stroke-width="1.5"/>
<rect x="499.90" y="664.50" width="39.30" height="28.50" fill="#3b8de0" stroke="#1a1a1a" stroke-width="1.3"/>
<line x1="500.50" y1="678.10" x2="538.60" y2="678.10" stroke="#000" stroke-width="3.3"/>
<line x1="519.70" y1="828.50" x2="519.70" y2="834.00" stroke="#333" stroke-width="1.2"/>
<text transform="translate(524.20,846.20) rotate(-45)" font-size="12.7" text-anchor="end">mRNA</text>
<line x1="567.70" y1="650.10" x2="567.70" y2="705.90" stroke="#333" stroke-width="1.5" stroke-dasharray="6.0,5.7"/>
<line x1="567.70" y1="799.70" x2="567.70" y2="743.70" stroke="#333" stroke-width="1.5" stroke-dasharray="6.0,5.7"/>
<line x1="557.90" y1="650.10" x2="577.50" y2="650.10" stroke="#333" stroke-width="1.5"/>
<line x1="557.90" y1="799.70" x2="577.50" y2="799.70" stroke="#333" stroke-width="1.5"/>
<rect x="548.20" y="705.90" width="38.90" height="37.80" fill="#60bc38" stroke="#1a1a1a" stroke-width="1.3"/>
<line x1="548.80" y1="725.40" x2="586.50" y2="725.40" stroke="#000" stroke-width="3.3"/>
<line x1="567.70" y1="828.50" x2="567.70" y2="834.00" stroke="#333" stroke-width="1.2"/>
<text transform="translate(572.20,846.20) rotate(-45)" font-size="12.7" text-anchor="end">snoRNA</text>
<line x1="615.60" y1="625.40" x2="615.60" y2="688.60" stroke="#333" stroke-width="1.5" stroke-dasharray="6.0,5.7"/>
<line x1="615.60" y1="820.70" x2="615.60" y2="741.80" stroke="#333" stroke-width="1.5" stroke-dasharray="6.0,5.7"/>
<line x1="605.80" y1="625.40" x2="625.40" y2="625.40" stroke="#333" stroke-width="1.5"/>
<line x1="605.80" y1="820.70" x2="625.40" y2="820.70" stroke="#333" stroke-width="1.5"/>
<rect x="596.30" y="688.60" width="38.90" height="53.20" fill="#7fca55" stroke="#1a1a1a" stroke-width="1.3"/>
<line x1="596.90" y1="713.20" x2="634.60" y2="713.20" stroke="#000" stroke-width="3.3"/>
<line x1="615.60" y1="828.50" x2="615.60" y2="834.00" stroke="#333" stroke-width="1.2"/>
<text transform="translate(620.10,846.20) rotate(-45)" font-size="12.7" text-anchor="end">snRNA</text>
<line x1="663.80" y1="680.30" x2="663.80" y2="712.70" stroke="#333" stroke-width="1.5" stroke-dasharray="6.0,5.7"/>
<line x1="663.80" y1="770.10" x2="663.80" y2="746.90" stroke="#333" stroke-width="1.5" stroke-dasharray="6.0,5.7"/>
<line x1="654.00" y1="680.30" x2="673.60" y2="680.30" stroke="#333" stroke-width="1.5"/>
<line x1="654.00" y1="770.10" x2="673.60" y2="770.10" stroke="#333" stroke-width="1.5"/>
<rect x="644.70" y="712.70" width="38.60" height="34.20" fill="#a5da80" stroke="#1a1a1a" stroke-width="1.3"/>
<line x1="645.30" y1="737.90" x2="682.70" y2="737.90" stroke="#000" stroke-width="3.3"/>
<line x1="663.80" y1="828.50" x2="663.80" y2="834.00" stroke="#333" stroke-width="1.2"/>
<text transform="translate(668.30,846.20) rotate(-45)" font-size="12.7" text-anchor="end">tRNA</text>
<line x1="712.10" y1="633.90" x2="712.10" y2="684.80" stroke="#333" stroke-width="1.5" stroke-dasharray="6.0,5.7"/>
<line x1="712.10" y1="783.70" x2="712.10" y2="726.20" stroke="#333" stroke-width="1.5" stroke-dasharray="6.0,5.7"/>
<line x1="702.30" y1="633.90" x2="721.90" y2="633.90" stroke="#333" stroke-width="1.5"/>
<line x1="702.30" y1="783.70" x2="721.90" y2="783.70" stroke="#333" stroke-width="1.5"/>
<rect x="692.50" y="684.80" width="38.70" height="41.40" fill="#c7e9a9" stroke="#1a1a1a" stroke-width="1.3"/>
<line x1="693.10" y1="704.90" x2="730.60" y2="704.90" stroke="#000" stroke-width="3.3"/>
<line x1="712.10" y1="828.50" x2="712.10" y2="834.00" stroke="#333" stroke-width="1.2"/>
<text transform="translate(716.60,846.20) rotate(-45)" font-size="12.7" text-anchor="end">lincRNA</text>
</svg>
</body></html>
